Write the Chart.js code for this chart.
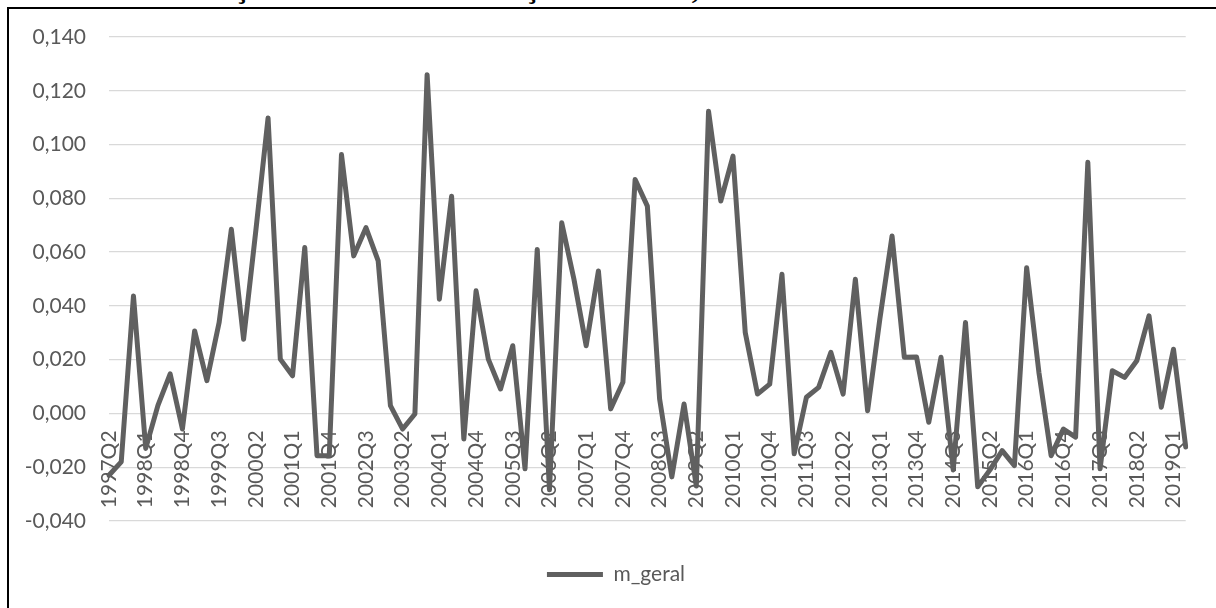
<!DOCTYPE html>
<html>
<head>
<meta charset="utf-8">
<script src="https://cdn.jsdelivr.net/npm/chart.js@4/dist/chart.umd.min.js"></script>
<style>
  html, body { margin: 0; padding: 0; background: #fff; overflow: hidden; }
  body { width: 1216px; height: 608px; position: relative; }
  #title {
    position: absolute; left: 14px; top: -27px;
    font: bold 30px "Liberation Serif", "Times New Roman", serif;
    line-height: 30px; white-space: nowrap; color: #000;
  }
  #frame {
    position: absolute; left: 7px; top: 7px; width: 1220px; height: 620px;
    border: 2px solid #000;
  }
  #wrap { position: absolute; left: 0; top: 0; width: 1216px; height: 608px; }
</style>
</head>
<body>
<div id="title">Gráfico 3 – Variação média da arrecadação de ICMS, de 1997 a 2019</div>
<div id="frame"></div>
<div id="wrap"><canvas id="c" width="1216" height="608"></canvas></div>
<script>
// Quarterly categories, 1997Q2 – 2019Q2
const quarters = [
  '1997Q2','1997Q3','1997Q4',
  '1998Q1','1998Q2','1998Q3','1998Q4',
  '1999Q1','1999Q2','1999Q3','1999Q4',
  '2000Q1','2000Q2','2000Q3','2000Q4',
  '2001Q1','2001Q2','2001Q3','2001Q4',
  '2002Q1','2002Q2','2002Q3','2002Q4',
  '2003Q1','2003Q2','2003Q3','2003Q4',
  '2004Q1','2004Q2','2004Q3','2004Q4',
  '2005Q1','2005Q2','2005Q3','2005Q4',
  '2006Q1','2006Q2','2006Q3','2006Q4',
  '2007Q1','2007Q2','2007Q3','2007Q4',
  '2008Q1','2008Q2','2008Q3','2008Q4',
  '2009Q1','2009Q2','2009Q3','2009Q4',
  '2010Q1','2010Q2','2010Q3','2010Q4',
  '2011Q1','2011Q2','2011Q3','2011Q4',
  '2012Q1','2012Q2','2012Q3','2012Q4',
  '2013Q1','2013Q2','2013Q3','2013Q4',
  '2014Q1','2014Q2','2014Q3','2014Q4',
  '2015Q1','2015Q2','2015Q3','2015Q4',
  '2016Q1','2016Q2','2016Q3','2016Q4',
  '2017Q1','2017Q2','2017Q3','2017Q4',
  '2018Q1','2018Q2','2018Q3','2018Q4',
  '2019Q1','2019Q2'
];

// Mean quarterly variation of ICMS revenue
const mGeral = [
  -0.0230, -0.0180,  0.0437,
  -0.0130,  0.0030,  0.0147, -0.0058,
   0.0307,  0.0122,  0.0338,  0.0685,
   0.0276,  0.0680,  0.1099,  0.0202,
   0.0140,  0.0617, -0.0157, -0.0157,
   0.0963,  0.0586,  0.0691,  0.0567,
   0.0029, -0.0058, -0.0002,  0.1260,
   0.0425,  0.0808, -0.0095,  0.0456,
   0.0202,  0.0091,  0.0252, -0.0206,
   0.0610, -0.0284,  0.0709,  0.0499,
   0.0252,  0.0530,  0.0017,  0.0116,
   0.0870,  0.0771,  0.0054, -0.0236,
   0.0035, -0.0270,  0.1124,  0.0790,
   0.0957,  0.0301,  0.0072,  0.0109,
   0.0518, -0.0150,  0.0060,  0.0097,
   0.0227,  0.0072,  0.0499,  0.0010,
   0.0351,  0.0660,  0.0209,  0.0210,
  -0.0033,  0.0209, -0.0210,  0.0338,
  -0.0273, -0.0210, -0.0138, -0.0194,
   0.0542,  0.0153, -0.0157, -0.0058,
  -0.0088,  0.0934, -0.0206,  0.0159,
   0.0134,  0.0196,  0.0363,  0.0023,
   0.0239, -0.0125
];

const seriesName = 'm_geral';
const yMin = -0.04;
const yMax = 0.14;
const yStep = 0.02;
const labelEvery = 3;

const axisFont = { family: 'Lato, "Open Sans", sans-serif', size: 21 };
const axisColor = '#595959';
const lineColor = '#606060';

// horizontal nudge for the legend so it sits centred in the framed area
const legendShift = 22;
const legendNudge = {
  id: 'legendNudge',
  afterLayout(chart) {
    const lg = chart.legend;
    if (lg) { lg.left += legendShift; lg.right += legendShift; }
  }
};

new Chart(document.getElementById('c'), {
  type: 'line',
  data: {
    labels: quarters,
    datasets: [{
      label: seriesName,
      data: mGeral,
      borderColor: lineColor,
      backgroundColor: lineColor,
      borderWidth: 5,
      borderCapStyle: 'round',
      borderJoinStyle: 'round',
      pointRadius: 0,
      pointHoverRadius: 0,
      tension: 0,
      fill: false
    }]
  },
  plugins: [legendNudge],
  options: {
    responsive: false,
    animation: false,
    events: [],
    layout: { padding: { left: 0, right: 28, top: 37, bottom: 13 } },
    plugins: {
      tooltip: { enabled: false },
      legend: {
        position: 'bottom',
        labels: {
          usePointStyle: true,
          pointStyle: 'line',
          pointStyleWidth: 56,
          font: axisFont,
          color: axisColor,
          padding: 43
        }
      }
    },
    scales: {
      x: {
        type: 'category',
        offset: false,
        position: { y: 0 },
        grid: { display: false, drawTicks: false },
        border: { display: false },
        ticks: {
          autoSkip: false,
          minRotation: 90,
          maxRotation: 90,
          padding: 17,
          font: axisFont,
          color: axisColor,
          callback: (v, i) => (i % labelEvery === 0 ? quarters[i] : null)
        },
        afterFit: (s) => { s.height = 0; }
      },
      y: {
        min: yMin,
        max: yMax,
        grid: { color: '#d9d9d9', lineWidth: 1.3, drawTicks: false },
        border: { display: false },
        ticks: {
          stepSize: yStep,
          padding: 23,
          font: axisFont,
          color: axisColor,
          callback: (v) => v.toFixed(3).replace('.', ',')
        },
        afterFit: (s) => { s.width = 109; }
      }
    }
  }
});
</script>
</body>
</html>
